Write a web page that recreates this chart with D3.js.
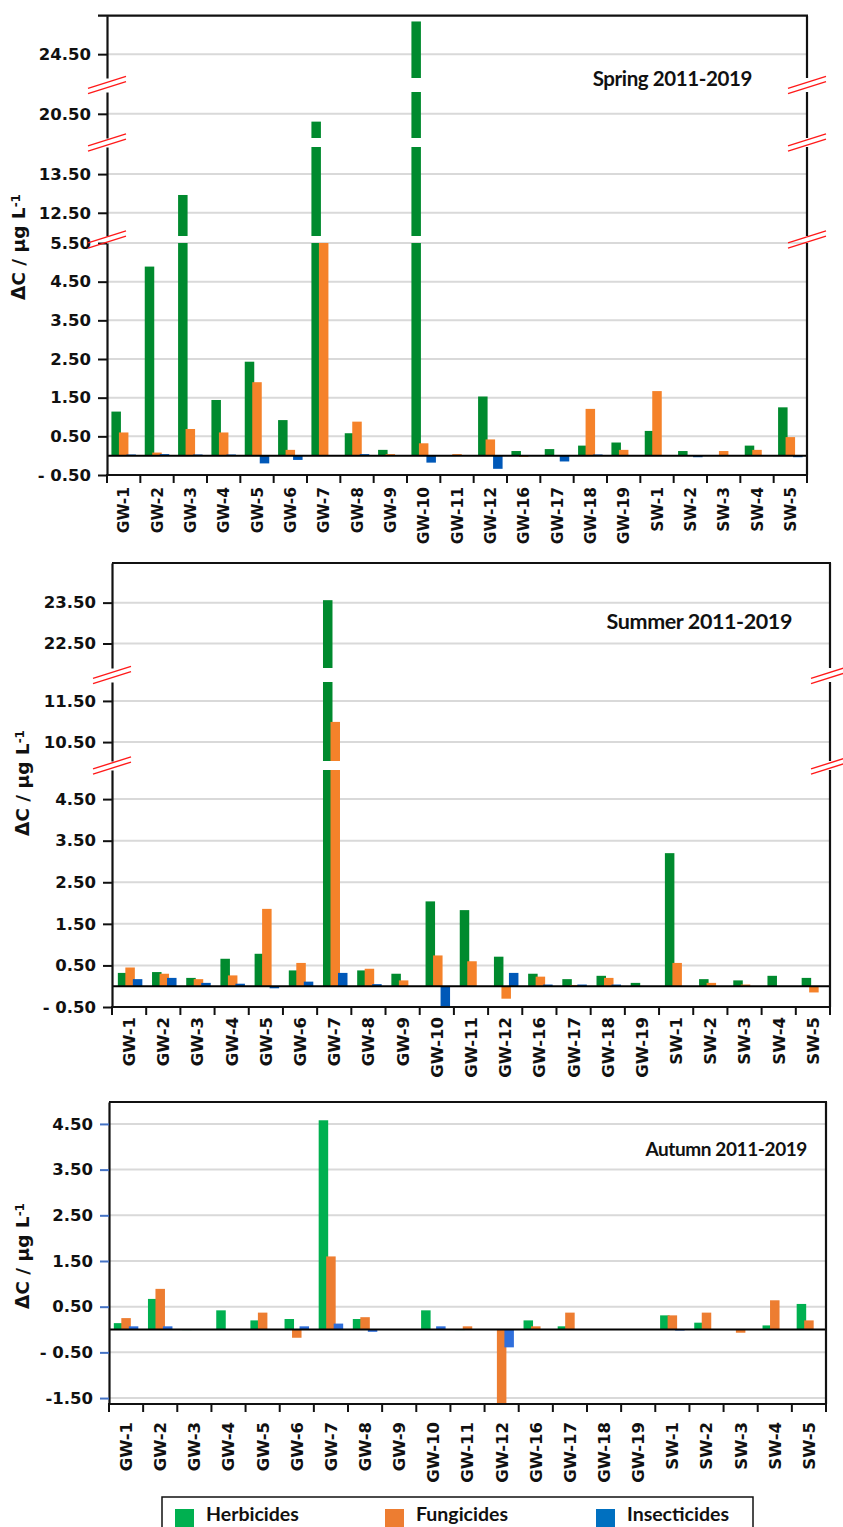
<!DOCTYPE html>
<html>
<head>
<meta charset="utf-8">
<script src="https://cdn.jsdelivr.net/npm/d3@7"></script>
<style>
  body { margin: 0; background: #fff; }
  svg { display: block; }
</style>
</head>
<body>
<script>
// categories (sampling sites)
const categories = ["GW-1", "GW-2", "GW-3", "GW-4", "GW-5", "GW-6", "GW-7", "GW-8", "GW-9", "GW-10",
  "GW-11", "GW-12", "GW-16", "GW-17", "GW-18", "GW-19", "SW-1", "SW-2", "SW-3", "SW-4", "SW-5"];
const seriesNames = ["Herbicides", "Fungicides", "Insecticides"];

// spring 2011-2019
const springHerbicides = [1.14, 4.89, 12.96, 1.44, 2.43, 0.92, 20.3, 0.58, 0.15, 25.35, 0, 1.53, 0.12, 0.17, 0.26, 0.34, 0.64, 0.12, 0, 0.26, 1.25];
const springFungicides = [0.60, 0.08, 0.69, 0.60, 1.90, 0.15, 5.5, 0.88, 0.04, 0.32, 0.04, 0.42, -0.03, 0, 1.21, 0.15, 1.67, 0, 0.12, 0.15, 0.48];
const springInsecticides = [0.03, 0.04, 0.03, 0.03, -0.20, -0.11, 0, 0.04, 0, -0.18, 0, -0.34, 0, -0.15, 0.03, 0, 0, -0.04, 0, 0, -0.04];

// summer 2011-2019
const summerHerbicides = [0.32, 0.34, 0.20, 0.66, 0.78, 0.38, 23.56, 0.38, 0.30, 2.04, 1.83, 0.71, 0.30, 0.17, 0.25, 0.08, 3.20, 0.17, 0.14, 0.25, 0.20];
const summerFungicides = [0.45, 0.30, 0.17, 0.26, 1.86, 0.56, 10.99, 0.42, 0.14, 0.74, 0.60, -0.30, 0.23, 0.03, 0.20, 0, 0.56, 0.08, 0.04, 0, -0.15];
const summerInsecticides = [0.17, 0.20, 0.08, 0.06, -0.05, 0.11, 0.32, 0.05, 0, -0.48, 0, 0.32, 0.04, 0.04, 0.04, 0, 0, 0, 0, 0, 0];

// autumn 2011-2019
const autumnHerbicides = [0.14, 0.67, 0.01, 0.42, 0.20, 0.23, 4.58, 0.23, 0, 0.42, 0.01, 0, 0.20, 0.07, 0, 0, 0.31, 0.15, 0, 0.09, 0.56];
const autumnFungicides = [0.25, 0.89, 0, 0, 0.37, -0.18, 1.60, 0.27, 0, 0, 0.07, -1.61, 0.07, 0.37, 0, 0, 0.31, 0.37, -0.07, 0.64, 0.20];
const autumnInsecticides = [0.07, 0.07, 0, 0, 0, 0.07, 0.13, -0.05, 0, 0.07, 0, -0.39, 0, 0, 0, 0, -0.01, 0, 0, 0, 0];

// y tick values (axis is broken in spring and summer)
const springTicks = [-0.5, 0.5, 1.5, 2.5, 3.5, 4.5, 5.5, 12.5, 13.5, 20.5, 24.5];
const summerTicks = [-0.5, 0.5, 1.5, 2.5, 3.5, 4.5, 10.5, 11.5, 22.5, 23.5];
const autumnTicks = [-1.5, -0.5, 0.5, 1.5, 2.5, 3.5, 4.5];

const w = 843;
const h = 1527;
const fontAxis = "'DejaVu Sans', Verdana, sans-serif";
const fontTitle = "Lato, 'Open Sans', sans-serif";

const svg = d3.select("body")
  .append("svg")
  .attr("width", w)
  .attr("height", h);

const fmt = (v) => v < 0 ? (v > -1 ? "- " + d3.format(".2f")(-v) : "-" + d3.format(".2f")(-v)) : d3.format(".2f")(v);

function drawPanel(p) {
  const g = svg.append("g");
  const x = d3.scaleBand().domain(categories).range([p.left, p.right]);
  const sub = d3.scalePoint().domain(seriesNames).range([-7.5, 7.5]);
  const barW = 9.5;

  const segs = p.segments.map((s) => ({
    lo: s.lo, hi: s.hi,
    y: d3.scaleLinear().domain([s.lo, s.hi]).range([s.y0, s.y1])
  }));
  const yBottom = segs[0].y(segs[0].lo);
  const yTop = segs[segs.length - 1].y(segs[segs.length - 1].hi);

  // gridlines
  segs.forEach((s) => {
    const tv = p.ticks.filter((t) => t >= s.lo && t <= s.hi);
    g.selectAll(null)
      .data(tv)
      .enter()
      .append("line")
      .attr("x1", p.left)
      .attr("x2", p.right)
      .attr("y1", (d) => s.y(d))
      .attr("y2", (d) => s.y(d))
      .attr("stroke", "#d9d9d9")
      .attr("stroke-width", 2);
  });

  // bars, cut into the pieces that fall into each axis segment
  let pieces = [];
  p.series.forEach((vals, si) => {
    vals.forEach((v, ci) => {
      segs.forEach((s) => {
        const a = Math.max(Math.min(0, v), s.lo);
        const b = Math.min(Math.max(0, v), s.hi);
        if (b > a) {
          pieces.push({ cat: categories[ci], name: seriesNames[si], color: p.colors[si], top: s.y(b), bottom: s.y(a) });
        }
      });
    });
  });

  g.selectAll(null)
    .data(pieces)
    .enter()
    .append("rect")
    .attr("x", (d) => x(d.cat) + x.bandwidth() / 2 + p.shift + sub(d.name) - barW / 2)
    .attr("y", (d) => d.top)
    .attr("width", barW)
    .attr("height", (d) => Math.max(1, d.bottom - d.top))
    .attr("fill", (d) => d.color);

  // zero line
  g.append("line")
    .attr("x1", p.left)
    .attr("x2", p.right)
    .attr("y1", segs[0].y(0))
    .attr("y2", segs[0].y(0))
    .attr("stroke", "#000")
    .attr("stroke-width", 2);

  // left axis, one piece per segment
  segs.forEach((s) => {
    const tv = p.ticks.filter((t) => t >= s.lo && t <= s.hi);
    const ax = g.append("g")
      .attr("transform", "translate(" + p.left + ",0)")
      .call(d3.axisLeft(s.y).tickValues(tv).tickSize(9).tickSizeOuter(0).tickPadding(7).tickFormat(fmt));
    ax.select(".domain").attr("stroke", "#111").attr("stroke-width", 2.2);
    ax.selectAll(".tick line").attr("stroke", p.tickColor).attr("stroke-width", 2);
    ax.selectAll(".tick text")
      .attr("fill", "#111")
      .style("font-family", fontAxis)
      .style("font-weight", "bold")
      .style("font-size", "16.5px");

    // right border
    g.append("line")
      .attr("x1", p.right)
      .attr("x2", p.right)
      .attr("y1", s.y(s.lo))
      .attr("y2", s.y(s.hi))
      .attr("stroke", "#111")
      .attr("stroke-width", 2.2);
  });

  // top border
  g.append("line")
    .attr("x1", p.left - p.topOverhang)
    .attr("x2", p.right + 1)
    .attr("y1", yTop)
    .attr("y2", yTop)
    .attr("stroke", "#111")
    .attr("stroke-width", 2.2);

  // bottom axis with ticks between categories
  g.append("line")
    .attr("x1", p.left - 1)
    .attr("x2", p.right + 1)
    .attr("y1", yBottom)
    .attr("y2", yBottom)
    .attr("stroke", "#111")
    .attr("stroke-width", 2.2);

  const bounds = categories.map((c) => x(c)).concat([p.right]);
  g.selectAll(null)
    .data(bounds)
    .enter()
    .append("line")
    .attr("x1", (d) => d)
    .attr("x2", (d) => d)
    .attr("y1", yBottom)
    .attr("y2", yBottom + 8)
    .attr("stroke", "#111")
    .attr("stroke-width", 2);

  g.selectAll(null)
    .data(categories)
    .enter()
    .append("text")
    .attr("transform", (d) => "translate(" + (x(d) + x.bandwidth() / 2) + "," + p.labelTop + ") rotate(-90)")
    .attr("text-anchor", "end")
    .attr("dy", "0.36em")
    .style("font-family", fontAxis)
    .style("font-weight", "bold")
    .style("font-size", p.labelSize + "px")
    .attr("fill", "#111")
    .text((d) => d);

  // axis break marks
  for (let i = 0; i < segs.length - 1; i++) {
    const my = (segs[i].y(segs[i].hi) + segs[i + 1].y(segs[i + 1].lo)) / 2;
    [p.left, p.right].forEach((cx) => {
      [-2.6, 2.6].forEach((off) => {
        g.append("line")
          .attr("x1", cx - 19)
          .attr("y1", my + 6 + off)
          .attr("x2", cx + 19)
          .attr("y2", my - 6 + off)
          .attr("stroke", "#ff1a1a")
          .attr("stroke-width", 1.4);
      });
    });
  }

  // panel title
  g.append("text")
    .attr("x", p.titleX)
    .attr("y", p.titleY)
    .attr("text-anchor", "end")
    .style("font-family", fontTitle)
    .style("font-weight", "bold")
    .style("font-size", p.titleSize + "px")
    .style("letter-spacing", "-0.4px")
    .attr("fill", "#111")
    .text(p.title);

  // y axis title
  const yt = g.append("text")
    .attr("transform", "translate(" + p.yTitleX + "," + p.yTitleY + ") rotate(-90)")
    .attr("text-anchor", "middle")
    .style("font-family", fontAxis)
    .style("font-weight", "bold")
    .style("font-size", "18.5px")
    .attr("fill", "#111");
  yt.append("tspan").text("\u0394C / \u00b5g L");
  yt.append("tspan").attr("dy", "-0.45em").style("font-size", "12px").text("-1");
}

drawPanel({
  title: "Spring 2011-2019",
  series: [springHerbicides, springFungicides, springInsecticides],
  colors: ["#008a2e", "#f5822a", "#0058b8"],
  tickColor: "#111",
  ticks: springTicks,
  left: 107, right: 807, shift: 0, topOverhang: 9,
  segments: [
    { lo: -0.5, hi: 5.5, y0: 475, y1: 243 },
    { lo: 11.9, hi: 14.2, y0: 236, y1: 147 },
    { lo: 19.88, hi: 21.06, y0: 138, y1: 92 },
    { lo: 23.88, hi: 25.5, y0: 78, y1: 15.7 }
  ],
  labelTop: 487, labelSize: 15.5,
  titleX: 752, titleY: 86, titleSize: 20.5,
  yTitleX: 25, yTitleY: 247
});

drawPanel({
  title: "Summer 2011-2019",
  series: [summerHerbicides, summerFungicides, summerInsecticides],
  colors: ["#008a2e", "#f5822a", "#0058b8"],
  tickColor: "#111",
  ticks: summerTicks,
  left: 112, right: 830, shift: 1, topOverhang: 0,
  segments: [
    { lo: -0.5, hi: 5.2, y0: 1007, y1: 770 },
    { lo: 10.04, hi: 11.96, y0: 761, y1: 682 },
    { lo: 21.9, hi: 24.47, y0: 668, y1: 563 }
  ],
  labelTop: 1017, labelSize: 16.5,
  titleX: 792, titleY: 629, titleSize: 21.5,
  yTitleX: 29, yTitleY: 783
});

drawPanel({
  title: "Autumn 2011-2019",
  series: [autumnHerbicides, autumnFungicides, autumnInsecticides],
  colors: ["#00b050", "#ed7d31", "#2f6fdc"],
  tickColor: "#4472c4",
  ticks: autumnTicks,
  left: 109, right: 826, shift: 0, topOverhang: 0,
  segments: [
    { lo: -1.63, hi: 4.98, y0: 1404, y1: 1102 }
  ],
  labelTop: 1422, labelSize: 16.5,
  titleX: 807, titleY: 1156, titleSize: 19,
  yTitleX: 29, yTitleY: 1256
});

// legend
const legendColors = ["#00b050", "#ed7d31", "#0070c0"];
const legendX = [175, 385, 596];
const legend = svg.append("g").attr("id", "legend");

legend.append("rect")
  .attr("x", 162)
  .attr("y", 1497)
  .attr("width", 591)
  .attr("height", 40)
  .attr("fill", "none")
  .attr("stroke", "#111")
  .attr("stroke-width", 1.5);

legend.selectAll(null)
  .data(seriesNames)
  .enter()
  .append("rect")
  .attr("x", (d, i) => legendX[i])
  .attr("y", 1509)
  .attr("width", 19)
  .attr("height", 22)
  .attr("fill", (d, i) => legendColors[i]);

legend.selectAll(null)
  .data(seriesNames)
  .enter()
  .append("text")
  .attr("x", (d, i) => legendX[i] + 31)
  .attr("y", 1521)
  .style("font-family", fontTitle)
  .style("font-weight", "bold")
  .style("font-size", "19.5px")
  .attr("fill", "#111")
  .text((d) => d);
</script>
</body>
</html>
